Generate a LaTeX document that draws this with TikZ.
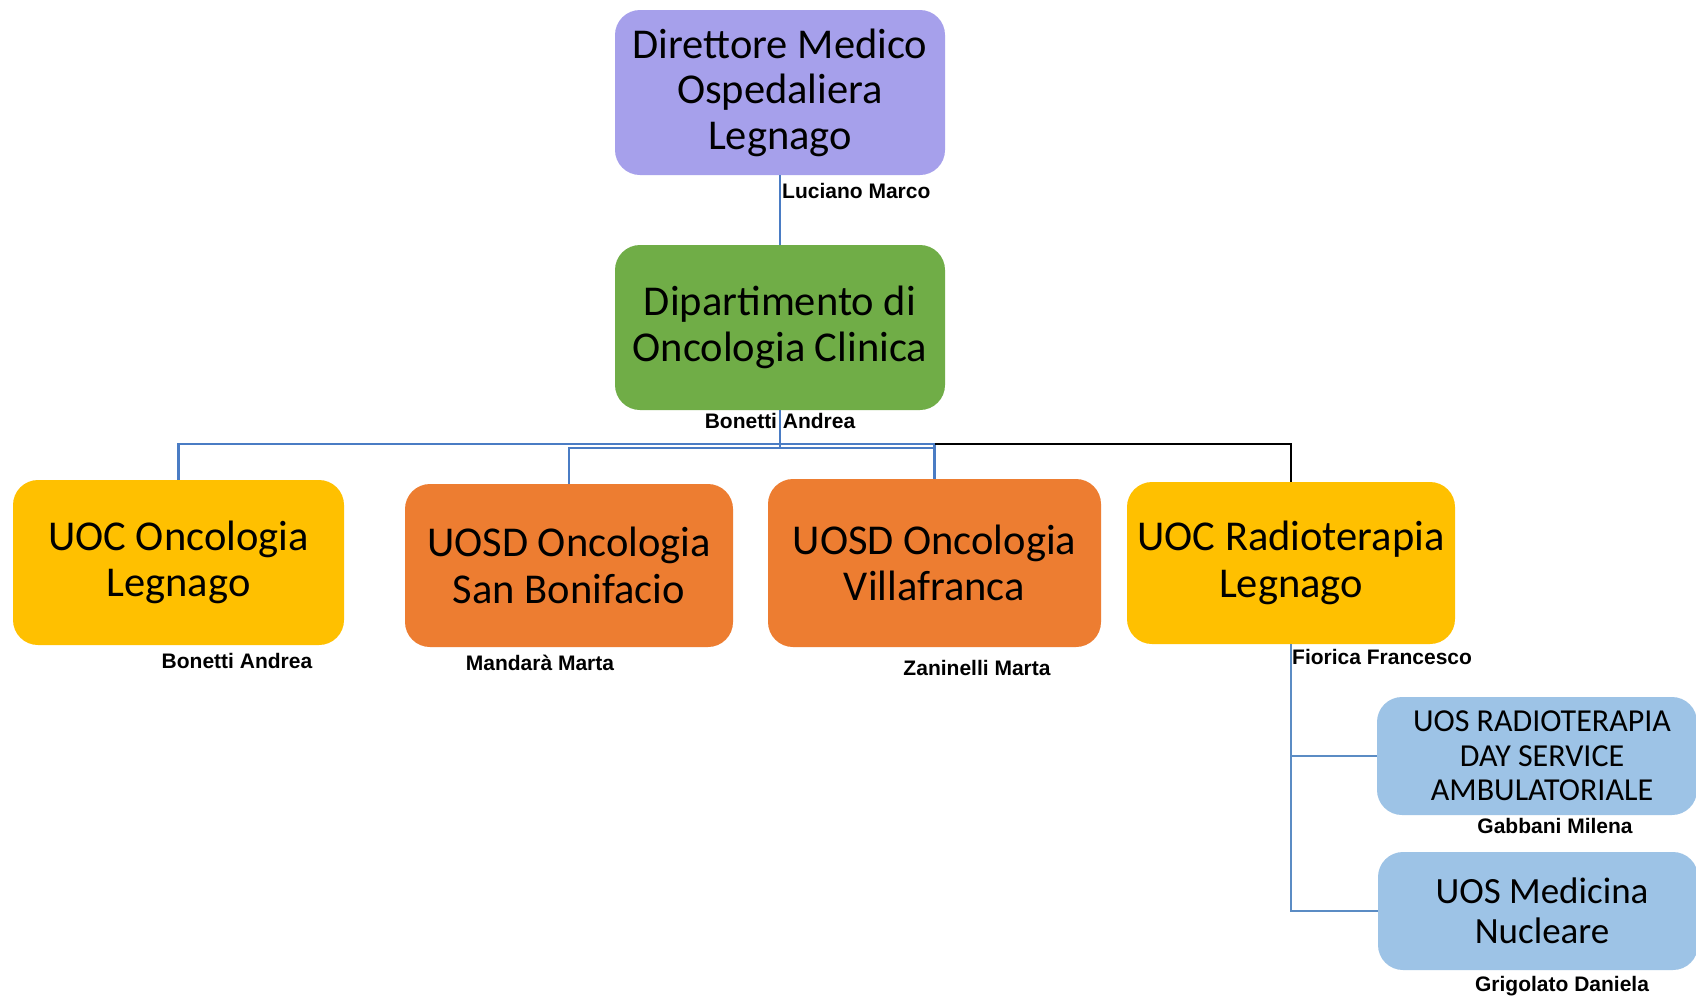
\documentclass[tikz,border=0pt]{standalone}
\usepackage{fontspec}
\setmainfont{Carlito}
\newfontfamily\namefont{Liberation Sans}
\definecolor{cpurple}{HTML}{A6A0EB}
\definecolor{cgreen}{HTML}{70AD47}
\definecolor{cyellow}{HTML}{FFC000}
\definecolor{corange}{HTML}{ED7D31}
\definecolor{clblue}{HTML}{9DC3E6}
\definecolor{cline}{HTML}{4A7CC4}
\definecolor{cline2}{HTML}{5B8CC4}
\tikzset{
  orgbox/.style={rounded corners=25pt, inner sep=0pt, align=center, text=black,
    font=\fontsize{42.5}{45.5}\selectfont},
  lowbox/.style={orgbox, font=\fontsize{42.5}{46.5}\selectfont},
  smallbox/.style={orgbox, font=\fontsize{32}{34.7}\selectfont},
  medbox/.style={orgbox, font=\fontsize{37}{40}\selectfont},
  person/.style={inner sep=0pt, font=\namefont\bfseries\fontsize{21}{24}\selectfont, text=black},
  conn/.style={draw=cline, line width=2.2pt},
  connb/.style={draw=black, line width=2.2pt},
}
\begin{document}
\begin{tikzpicture}[x=1pt,y=-1pt]
\useasboundingbox (0,0) rectangle (1696,997);
\clip (0,0) rectangle (1696,997);
\fill[white] (0,0) rectangle (1696,997);
% boxes
\node[orgbox, fill=cpurple, minimum width=330pt, minimum height=165pt] (dir) at (780,92.5) {Direttore Medico\\Ospedaliera\\Legnago};
\node[orgbox, fill=cgreen, minimum width=330pt, minimum height=165pt] (dip) at (780,327.5) {Dipartimento di\\Oncologia Clinica};
\node[lowbox, fill=cyellow, minimum width=331pt, minimum height=165pt] (uoc1) at (178.5,562.5) {UOC Oncologia\\Legnago};
\node[lowbox, fill=corange, minimum width=328pt, minimum height=163pt] (sanb) at (569,565.5) {UOSD Oncologia\\San Bonifacio};
\node[lowbox, fill=corange, minimum width=333pt, minimum height=168pt] (vill) at (934.5,563) {UOSD Oncologia\\Villafranca};
\node[lowbox, fill=cyellow, minimum width=328pt, minimum height=162pt] (radio) at (1291,563) {UOC Radioterapia\\Legnago};
\node[smallbox, fill=clblue, minimum width=320pt, minimum height=118pt] (uosr) at (1537,756) {};
\node[medbox, fill=clblue, minimum width=320pt, minimum height=118pt] (uosm) at (1538,911) {};
\node[smallbox, align=center] (uosrt) at (1542,756) {UOS RADIOTERAPIA\\DAY SERVICE\\AMBULATORIALE};
\node[medbox, align=center] (uosmt) at (1542,911) {UOS Medicina\\Nucleare};
% connectors
\coordinate (bus) at (780,444);
\coordinate (bus2) at (780,448);
\draw[conn] (dir.south) -- (dip.north);
\draw[conn] (dip.south) -- (bus2);
\draw[conn] (bus) -| (uoc1.north);
\draw[conn] (bus) -| (vill.north);
\draw[conn] (bus2) -| (sanb.north);
\draw[conn] (bus2) -| (vill.north);
\draw[connb] (vill.north |- bus) -| (radio.north);
\draw[draw=cline2, line width=2.2pt] (radio.south) |- (uosr.west);
\draw[draw=cline2, line width=2.2pt] (radio.south) |- (uosm.west);
% names
\node[person, anchor=west] (p1) at (782,191) {Luciano Marco};
\node[person] (p2) at (780,421) {Bonetti Andrea};
\node[person] (p3) at (237,661) {Bonetti Andrea};
\node[person] (p4) at (540,663) {Mandarà Marta};
\node[person] (p5) at (977,668) {Zaninelli Marta};
\node[person, anchor=west] (p6) at (1292,657) {Fiorica Francesco};
\node[person] (p7) at (1555,826) {Gabbani Milena};
\node[person] (p8) at (1562,986) {Grigolato Daniela};
\end{tikzpicture}
\end{document}
